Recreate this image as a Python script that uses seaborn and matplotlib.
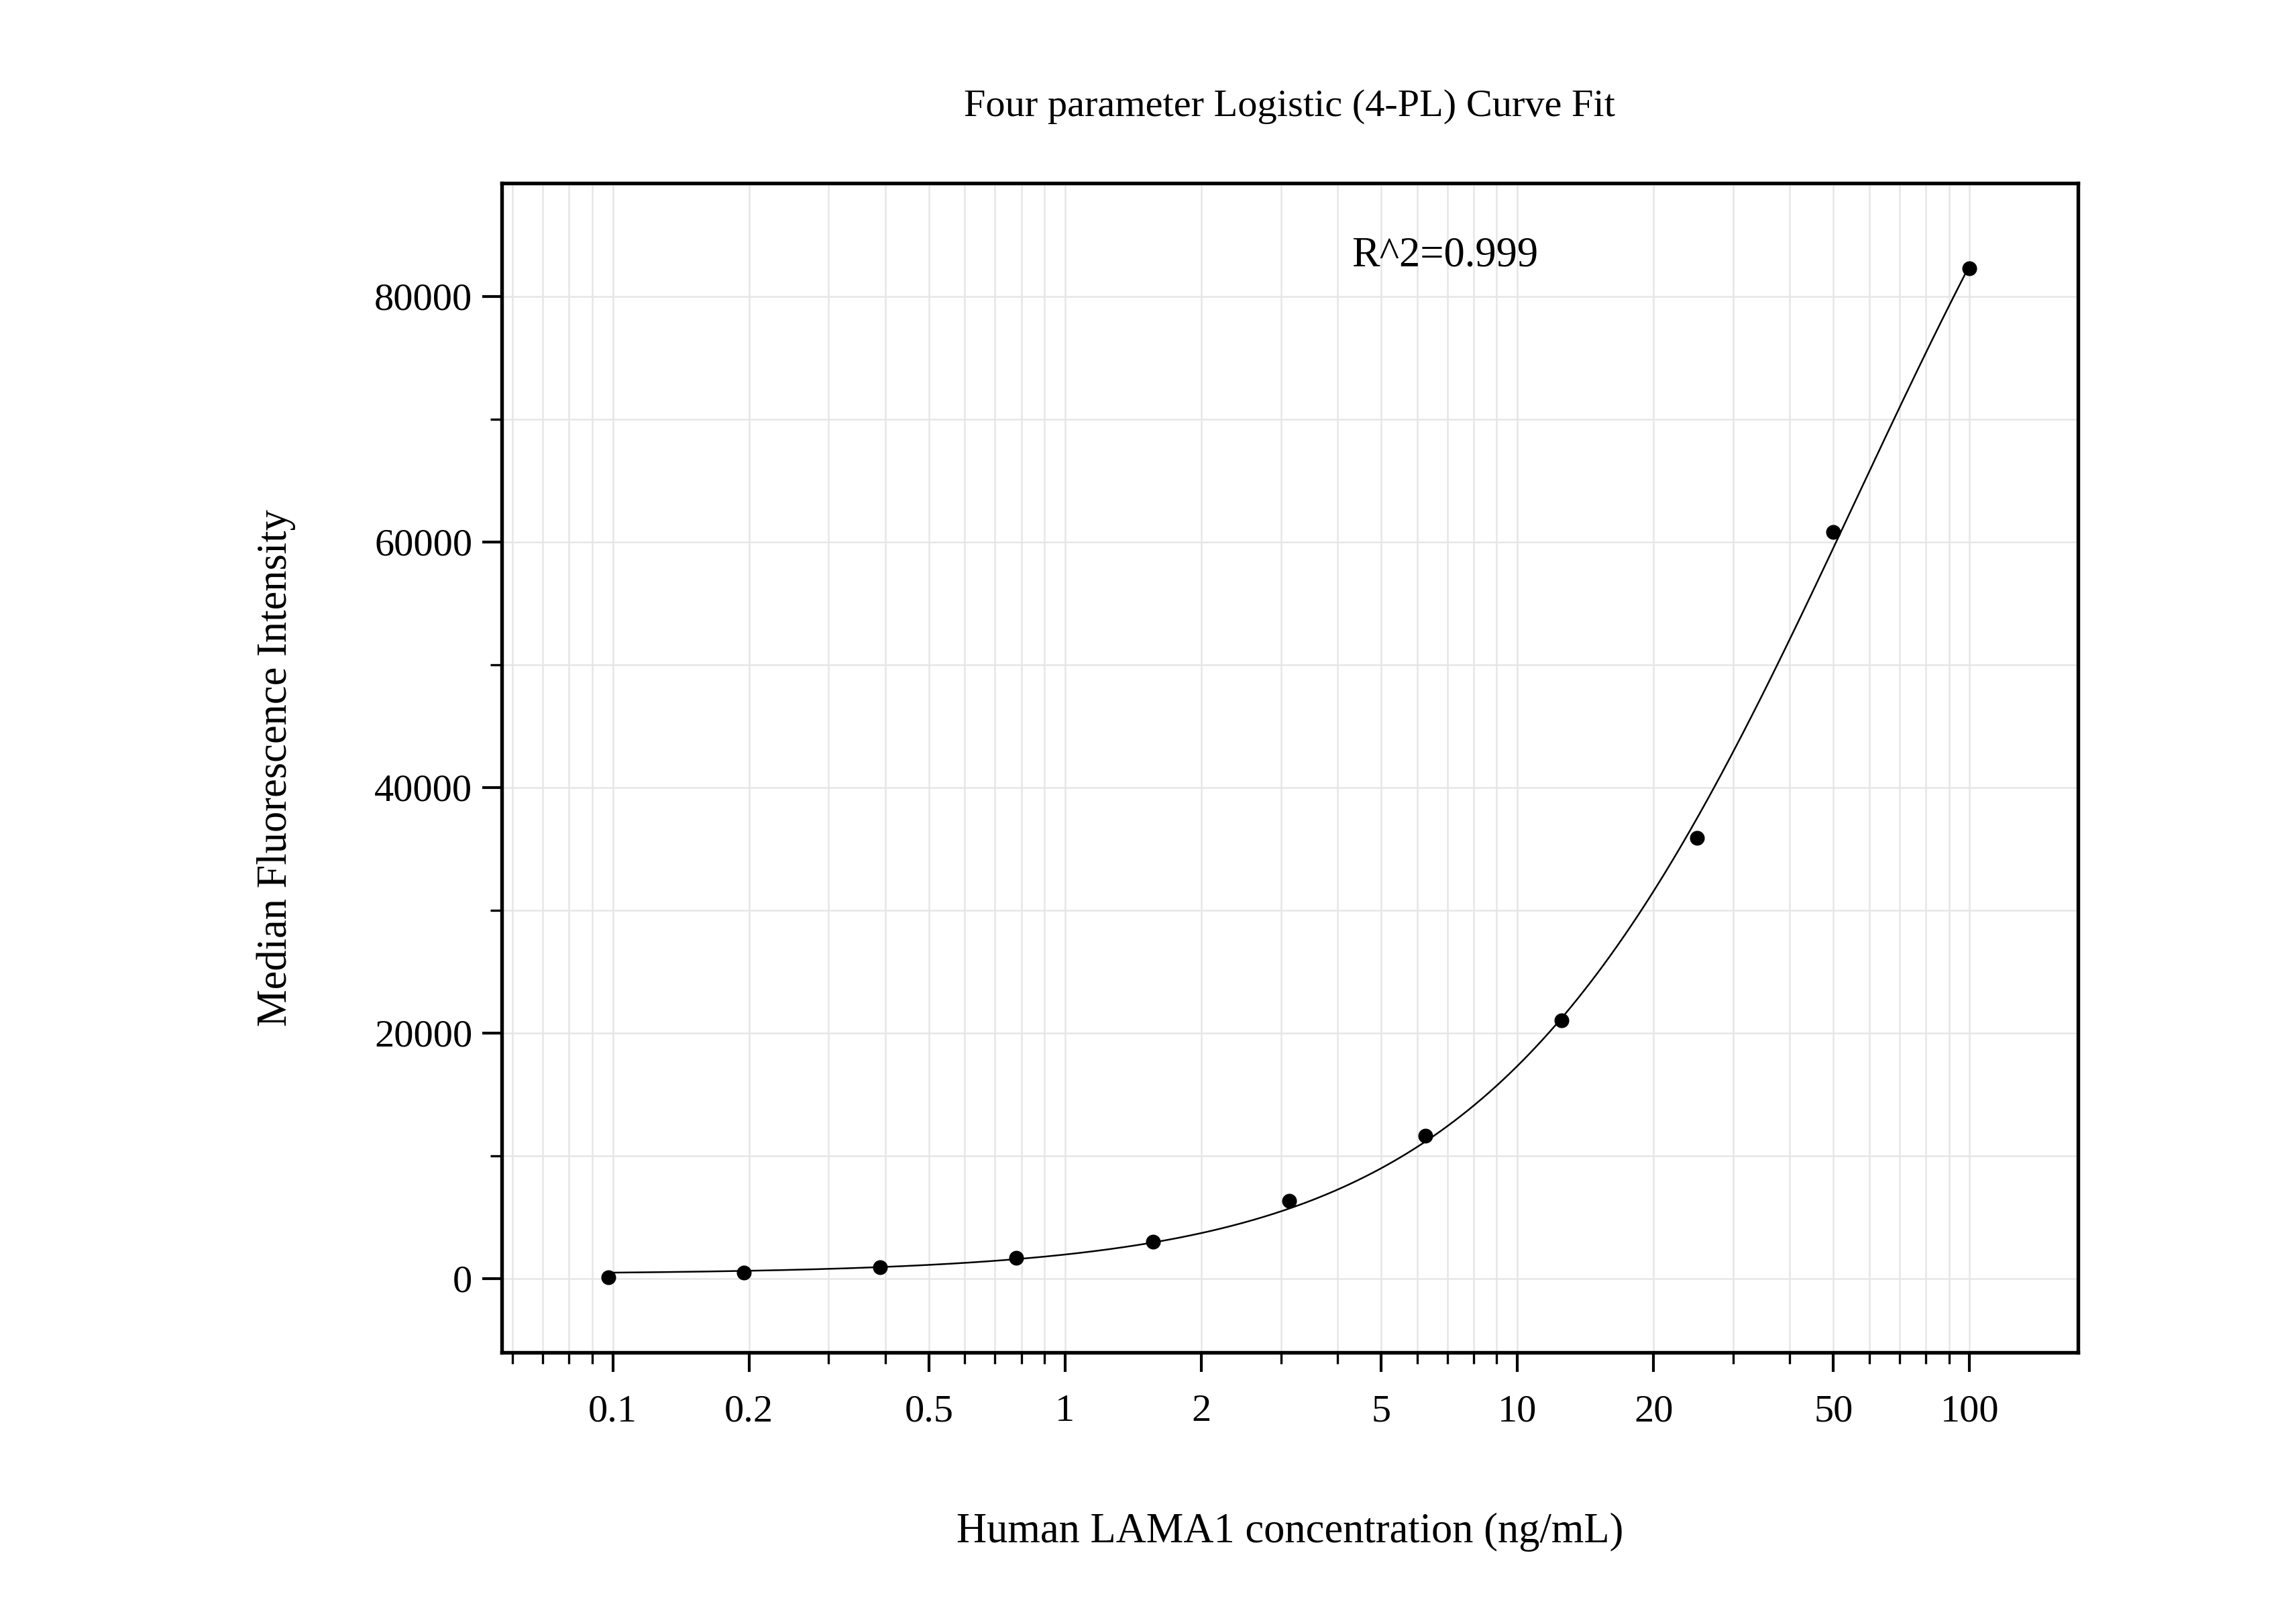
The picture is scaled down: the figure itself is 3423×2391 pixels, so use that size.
import numpy as np
import matplotlib
matplotlib.use("Agg")
import matplotlib.pyplot as plt
import seaborn as sns
from matplotlib.ticker import FixedLocator, NullFormatter, MultipleLocator

conc = [0.0977, 0.195, 0.39, 0.78, 1.5625, 3.125, 6.25, 12.5, 25, 50, 100]
mfi = [100, 500, 900, 1700, 3000, 6300, 11600, 21000, 35900, 60800, 82300]
xticks = [0.1, 0.2, 0.5, 1, 2, 5, 10, 20, 50, 100]
xticklabels = ["0.1", "0.2", "0.5", "1", "2", "5", "10", "20", "50", "100"]
yticks = [0, 20000, 40000, 60000, 80000]

# 4PL fit via grid search (A, D linear for fixed B, C)
x = np.array(conc); y = np.array(mfi)
best = None
for B in np.linspace(0.6, 2.5, 96):
    for C in np.logspace(0, 4, 200):
        f = 1.0 / (1.0 + (x / C) ** B)
        M = np.column_stack([f, 1 - f])
        coef, *_ = np.linalg.lstsq(M, y, rcond=None)
        r = np.sum((M @ coef - y) ** 2)
        if best is None or r < best[0]:
            best = (r, B, C, coef)
_, B, C, (A, D) = best
xs = np.logspace(np.log10(0.0977), 2, 400)
ys = D + (A - D) / (1 + (xs / C) ** B)

plt.rcParams["font.family"] = "Liberation Serif"
fig = plt.figure(figsize=(3423 / 300, 2391 / 300), dpi=300)
ax = fig.add_axes([0.2185, 0.157, 0.6865, 0.729])
ax.set_xscale("log")
sns.lineplot(x=xs, y=ys, ax=ax, color="black", linewidth=0.6)
sns.scatterplot(x=conc, y=mfi, ax=ax, color="black", s=24, edgecolor="black", zorder=3)
ax.set_xlim(0.0568, 173.5)
ax.set_ylim(-6006, 89250)
ax.xaxis.set_major_locator(FixedLocator(xticks))
ax.set_xticklabels(xticklabels)
ax.xaxis.set_minor_locator(FixedLocator([m * 10.0 ** e for e in range(-2, 3) for m in range(1, 10)]))
ax.xaxis.set_minor_formatter(NullFormatter())
ax.set_yticks(yticks)
ax.yaxis.set_minor_locator(MultipleLocator(10000))
ax.grid(True, which="both", color="#e6e6e6", linewidth=0.6)
ax.set_axisbelow(True)
for s in ax.spines.values():
    s.set_linewidth(1.3)
ax.tick_params(which="major", direction="out", length=7, width=1, labelsize=14)
ax.tick_params(which="minor", direction="out", length=4, width=0.8)
ax.tick_params(axis="x", pad=8)
ax.set_xlabel("Human LAMA1 concentration (ng/mL)", fontsize=15, labelpad=30)
ax.set_ylabel("Median Fluorescence Intensity", fontsize=15, labelpad=28)
ax.set_title("Four parameter Logistic (4-PL) Curve Fit", fontsize=14, pad=24)
ax.text(4.3, 82500, "R^2=0.999", fontsize=15)
fig.savefig("out.png", dpi=300)
